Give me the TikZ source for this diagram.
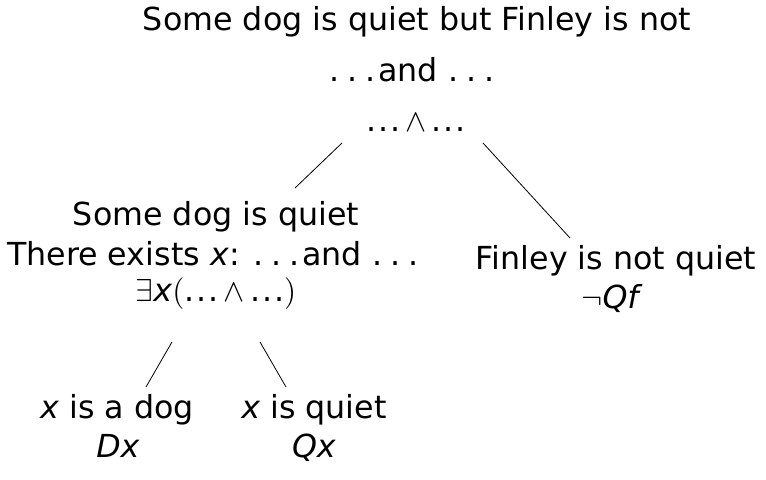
\documentclass[tikz,border=0pt]{standalone}
\usepackage{fix-cm}
\usepackage{fontspec}
\setmainfont{DejaVu Sans}
\newcommand\sdts{.\kern.26em.\kern.26em.}
\newcommand\tdts{.\kern.06em.\kern.06em.}
\begin{document}
\begin{tikzpicture}[x=0.5pt,y=-0.5pt,
  lbl/.style={anchor=base,inner sep=0pt,font=\fontsize{15.85pt}{19pt}\selectfont},
  branch/.style={line width=0.4pt}]
\useasboundingbox (0,0) rectangle (766,480);
% top node
\node[lbl] (t1) at (417,31) {Some dog is quiet but Finley is not};
\node[lbl] (t2) at (412,82) {\sdts\kern.08em and \sdts};
\node[lbl] (t3) at (416,132) {\tdts\,$\wedge$\,\tdts};
% left subtree
\node[lbl] (s1) at (216,226) {Some dog is quiet};
\node[lbl] (s2) at (213,266) {There exists \textit{x}: \sdts\kern.08em and \sdts};
\node[lbl] (s3) at (216,302) {$\exists$\textit{x}$($\tdts\,$\wedge$\,\tdts$)$};
% right child
\node[lbl] (f1) at (616,270) {Finley is not quiet};
\node[lbl] (f2) at (612,309) {$\neg$\textit{Qf}};
% leaves
\node[lbl] (b1) at (117,419) {\textit{x} is a dog};
\node[lbl] (b2) at (118,458) {\textit{Dx}};
\node[lbl] (c1) at (314,419) {\textit{x} is quiet};
\node[lbl] (c2) at (314,458) {\textit{Qx}};
% branch end points
\coordinate (rL) at (342,143);
\coordinate (rR) at (483,143);
\coordinate (sT) at (295,188);
\coordinate (fT) at (570,238);
\coordinate (eL) at (172,342);
\coordinate (eR) at (260,342);
\coordinate (bT) at (146,387);
\coordinate (cT) at (286,387);
\draw[branch] (rL) -- (sT);
\draw[branch] (rR) -- (fT);
\draw[branch] (eL) -- (bT);
\draw[branch] (eR) -- (cT);
\end{tikzpicture}
\end{document}
